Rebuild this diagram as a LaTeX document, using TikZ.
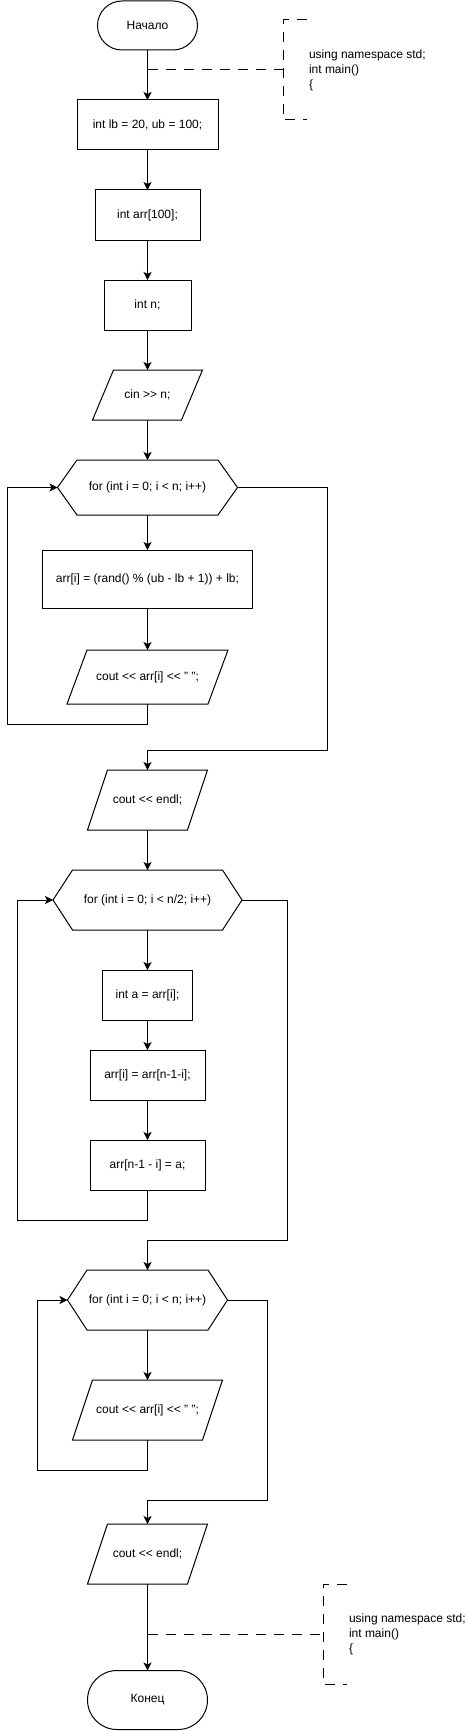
\documentclass[tikz,border=0pt]{standalone}
\usepackage{fontspec}
\setmainfont{Liberation Sans}
\usetikzlibrary{arrows.meta,calc}
\newcommand\shl{<\kern0pt<}
\newcommand\shr{>\kern0pt>}
\tikzset{
  base/.style={inner sep=0pt, outer sep=0pt, font=\fontsize{12}{15}\selectfont, line width=1pt, anchor=center},
  proc/.style={base, draw, minimum width=#1},
  shp/.style={base, minimum width=#1},
  term/.style={base, draw, minimum width=#1},
  note/.style={base, anchor=west, align=left},
  arr/.style={line width=1pt, -{Stealth[length=8pt,width=8pt,inset=2pt]}},
  ln/.style={line width=1pt},
  dsh/.style={line width=1pt, dash pattern=on 10pt off 8pt},
}
\newcommand\paraoutline[2]{\draw[ln] ($(#1.north west)+(#2,0)$) -- (#1.north east) -- ($(#1.south east)-(#2,0)$) -- (#1.south west) -- cycle;}
\newcommand\hexoutline[2]{\draw[ln] ($(#1.north west)+(#2,0)$) -- ($(#1.north east)-(#2,0)$) -- (#1.east) -- ($(#1.south east)-(#2,0)$) -- ($(#1.south west)+(#2,0)$) -- (#1.west) -- cycle;}
\begin{document}
\begin{tikzpicture}[x=1pt,y=-1pt]
\useasboundingbox (0,0) rectangle (467,1731);
% main column
\node[term=100pt, minimum height=49pt, rounded corners=24.5pt] (start) at (147.5,25.5) {Начало};
\node[proc=141pt, minimum height=50pt] (b1) at (147.5,125) {int lb = 20, ub = 100;};
\node[proc=105pt, minimum height=50pt] (b2) at (147.5,215) {int arr[100];};
\node[proc=87pt, minimum height=50pt] (b3) at (147.5,305) {int n;};
\node[shp=110pt, minimum height=50pt] (cin) at (147.5,395) {cin \shr{} n;};
\node[shp=180pt, minimum height=55pt] (h1) at (147.5,487.5) {for (int i = 0; i < n; i++)};
\node[proc=210pt, minimum height=58pt] (as) at (147.5,579) {arr[i] = (rand() \% (ub - lb + 1)) + lb;};
\node[shp=161pt, minimum height=54pt] (c1) at (147.5,677) {cout \shl{} arr[i] \shl{} " ";};
\node[shp=120pt, minimum height=60pt] (e1) at (147.5,800) {cout \shl{} endl;};
\node[shp=189pt, minimum height=60pt] (h2) at (147.5,900) {for (int i = 0; i < n/2; i++)};
\node[proc=90pt, minimum height=50pt] (sa) at (147.5,995) {int a = arr[i];};
\node[proc=115pt, minimum height=50pt] (sb) at (147.5,1075) {arr[i] = arr[n-1-i];};
\node[proc=115pt, minimum height=50pt] (sc) at (147.5,1165) {arr[n-1 - i] = a;};
\node[shp=160pt, minimum height=60pt] (h3) at (147.5,1300) {for (int i = 0; i < n; i++)};
\node[shp=150pt, minimum height=60pt] (c3) at (147.5,1410) {cout \shl{} arr[i] \shl{} " ";};
\node[shp=120pt, minimum height=60pt] (e2) at (147.5,1554) {cout \shl{} endl;};
\node[term=120pt, minimum height=59pt, rounded corners=29.5pt] (fin) at (147.5,1700) {Конец};
% outlines
\paraoutline{cin}{21pt}
\hexoutline{h1}{19.5pt}
\paraoutline{c1}{20pt}
\paraoutline{e1}{20pt}
\hexoutline{h2}{19.5pt}
\hexoutline{h3}{19.5pt}
\paraoutline{c3}{20pt}
\paraoutline{e2}{20pt}
% loop coordinates
\coordinate (l1) at (7,724);
\coordinate (r1) at (327,750);
\coordinate (l2) at (17,1220);
\coordinate (r2) at (287,1240);
\coordinate (l3) at (37,1470);
\coordinate (r3) at (267,1500);
% connectors
\draw[arr] (start) -- (b1);
\draw[arr] (b1) -- (b2);
\draw[arr] (b2) -- (b3);
\draw[arr] (b3) -- (cin);
\draw[arr] (cin) -- (h1);
\draw[arr] (h1) -- (as);
\draw[arr] (as) -- (c1);
\draw[arr] (c1.south) |- (l1) |- (h1.west);
\draw[arr] (h1.east) -| (r1) -| (e1.north);
\draw[arr] (e1) -- (h2);
\draw[arr] (h2) -- (sa);
\draw[arr] (sa) -- (sb);
\draw[arr] (sb) -- (sc);
\draw[arr] (sc.south) |- (l2) |- (h2.west);
\draw[arr] (h2.east) -| (r2) -| (h3.north);
\draw[arr] (h3) -- (c3);
\draw[arr] (c3.south) |- (l3) |- (h3.west);
\draw[arr] (h3.east) -| (r3) -| (e2.north);
\draw[arr] (e2) -- (fin);
% annotations
\coordinate (ax1) at (147.5,70);
\coordinate (bt1) at (307,20);
\coordinate (bv1) at (283,20);
\coordinate (bm1) at (283,70);
\coordinate (bw1) at (283,120);
\coordinate (bb1) at (307,120);
\draw[dsh] (bt1) -- (bv1) -- (bw1) -- (bb1);
\draw[dsh] (ax1) -- (bm1);
\node[note] (n1) at (309,70.5) {using namespace std;\\int main()\\\{};
\coordinate (ax2) at (147.5,1634);
\coordinate (bt2) at (347,1584);
\coordinate (bv2) at (323,1584);
\coordinate (bm2) at (323,1634);
\coordinate (bw2) at (323,1684);
\coordinate (bb2) at (347,1684);
\draw[dsh] (bt2) -- (bv2) -- (bw2) -- (bb2);
\draw[dsh] (ax2) -- (bm2);
\node[note] (n2) at (349,1634.5) {using namespace std;\\int main()\\\{};
\end{tikzpicture}
\end{document}
